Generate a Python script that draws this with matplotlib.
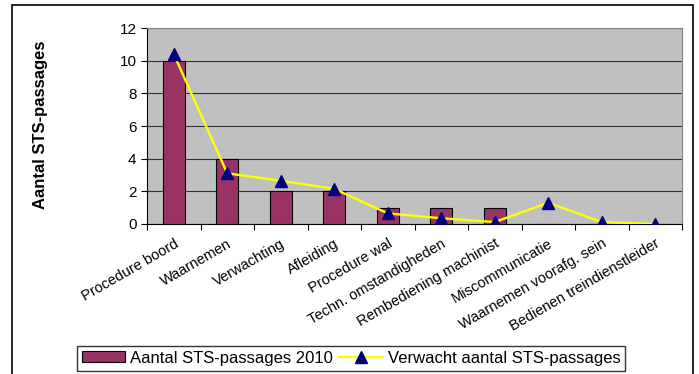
import numpy as np
import matplotlib.pyplot as plt
import matplotlib.transforms as mtransforms
from matplotlib.patches import Rectangle

plt.rcParams['font.family'] = ['Liberation Sans', 'DejaVu Sans']

categories = ["Procedure boord", "Waarnemen", "Verwachting", "Afleiding", "Procedure wal",
              "Techn. omstandigheden", "Rembediening machinist", "Miscommunicatie",
              "Waarnemen voorafg. sein", "Bedienen treindienstleider"]
aantal_2010 = [10, 4, 2, 2, 1, 1, 1, 0, 0, 0]
verwacht = [10.4, 3.1, 2.65, 2.15, 0.65, 0.35, 0.12, 1.3, 0.12, 0.0]

fig = plt.figure(figsize=(6.99, 3.74), dpi=100)
ax = fig.add_axes([147/699, 1-224/374, (682-147)/699, (224-28)/374])

# figure border
fig.patches.append(Rectangle((12/699, -0.01), (693-12)/699, 1-5/374+0.01,
                             transform=fig.transFigure, fill=False,
                             edgecolor='black', linewidth=1.2))

x = np.arange(len(categories))
ax.set_facecolor('#C0C0C0')
bars = ax.bar(x, aantal_2010, width=0.42, color='#993366', edgecolor='black',
              linewidth=0.8, zorder=3, label='Aantal STS-passages 2010')
line, = ax.plot(x, verwacht, color='#FFFF00', linewidth=1.7, marker='^', markersize=9,
                markerfacecolor='#000080', markeredgecolor='#000080', zorder=4,
                label='Verwacht aantal STS-passages')

ax.set_xlim(-0.5, len(categories) - 0.5)
ax.set_ylim(0, 12)
ax.set_yticks(range(0, 13, 2))
ax.yaxis.grid(True, color='#333333', linewidth=0.8, zorder=1)
ax.set_xticks(np.arange(-0.5, len(categories), 1.0))
ax.set_xticklabels([])
ax.set_xticks(x, minor=True)
ax.set_xticklabels(categories, minor=True, rotation=30, ha='right', va='top',
                   rotation_mode='anchor', fontsize=10.5)
shift = mtransforms.ScaledTranslation(-13/100, 0, fig.dpi_scale_trans)
for lbl in ax.get_xticklabels(minor=True):
    lbl.set_transform(lbl.get_transform() + shift)
ax.tick_params(axis='x', which='minor', length=0, pad=9)
ax.tick_params(axis='x', which='major', length=4, direction='out')
ax.tick_params(axis='y', labelsize=11, length=4)
for s in ['top', 'right']:
    ax.spines[s].set_color('#808080')
ax.spines['left'].set_color('black')
ax.spines['bottom'].set_color('black')

fig.text(41/699, 1-125/374, 'Aantal STS-passages', rotation=90, ha='center',
         va='center', fontsize=12, fontweight='bold')

leg = fig.legend([bars, line], ['Aantal STS-passages 2010', 'Verwacht aantal STS-passages'],
                 loc='center', bbox_to_anchor=(351/699, 1-358/374), ncol=2,
                 fontsize=12, frameon=True, fancybox=False, edgecolor='black',
                 handlelength=2.6, handleheight=0.6, columnspacing=0.4,
                 handletextpad=0.3, borderpad=0.3)
leg.get_frame().set_linewidth(1.0)

fig.savefig('out.png', dpi=100)
